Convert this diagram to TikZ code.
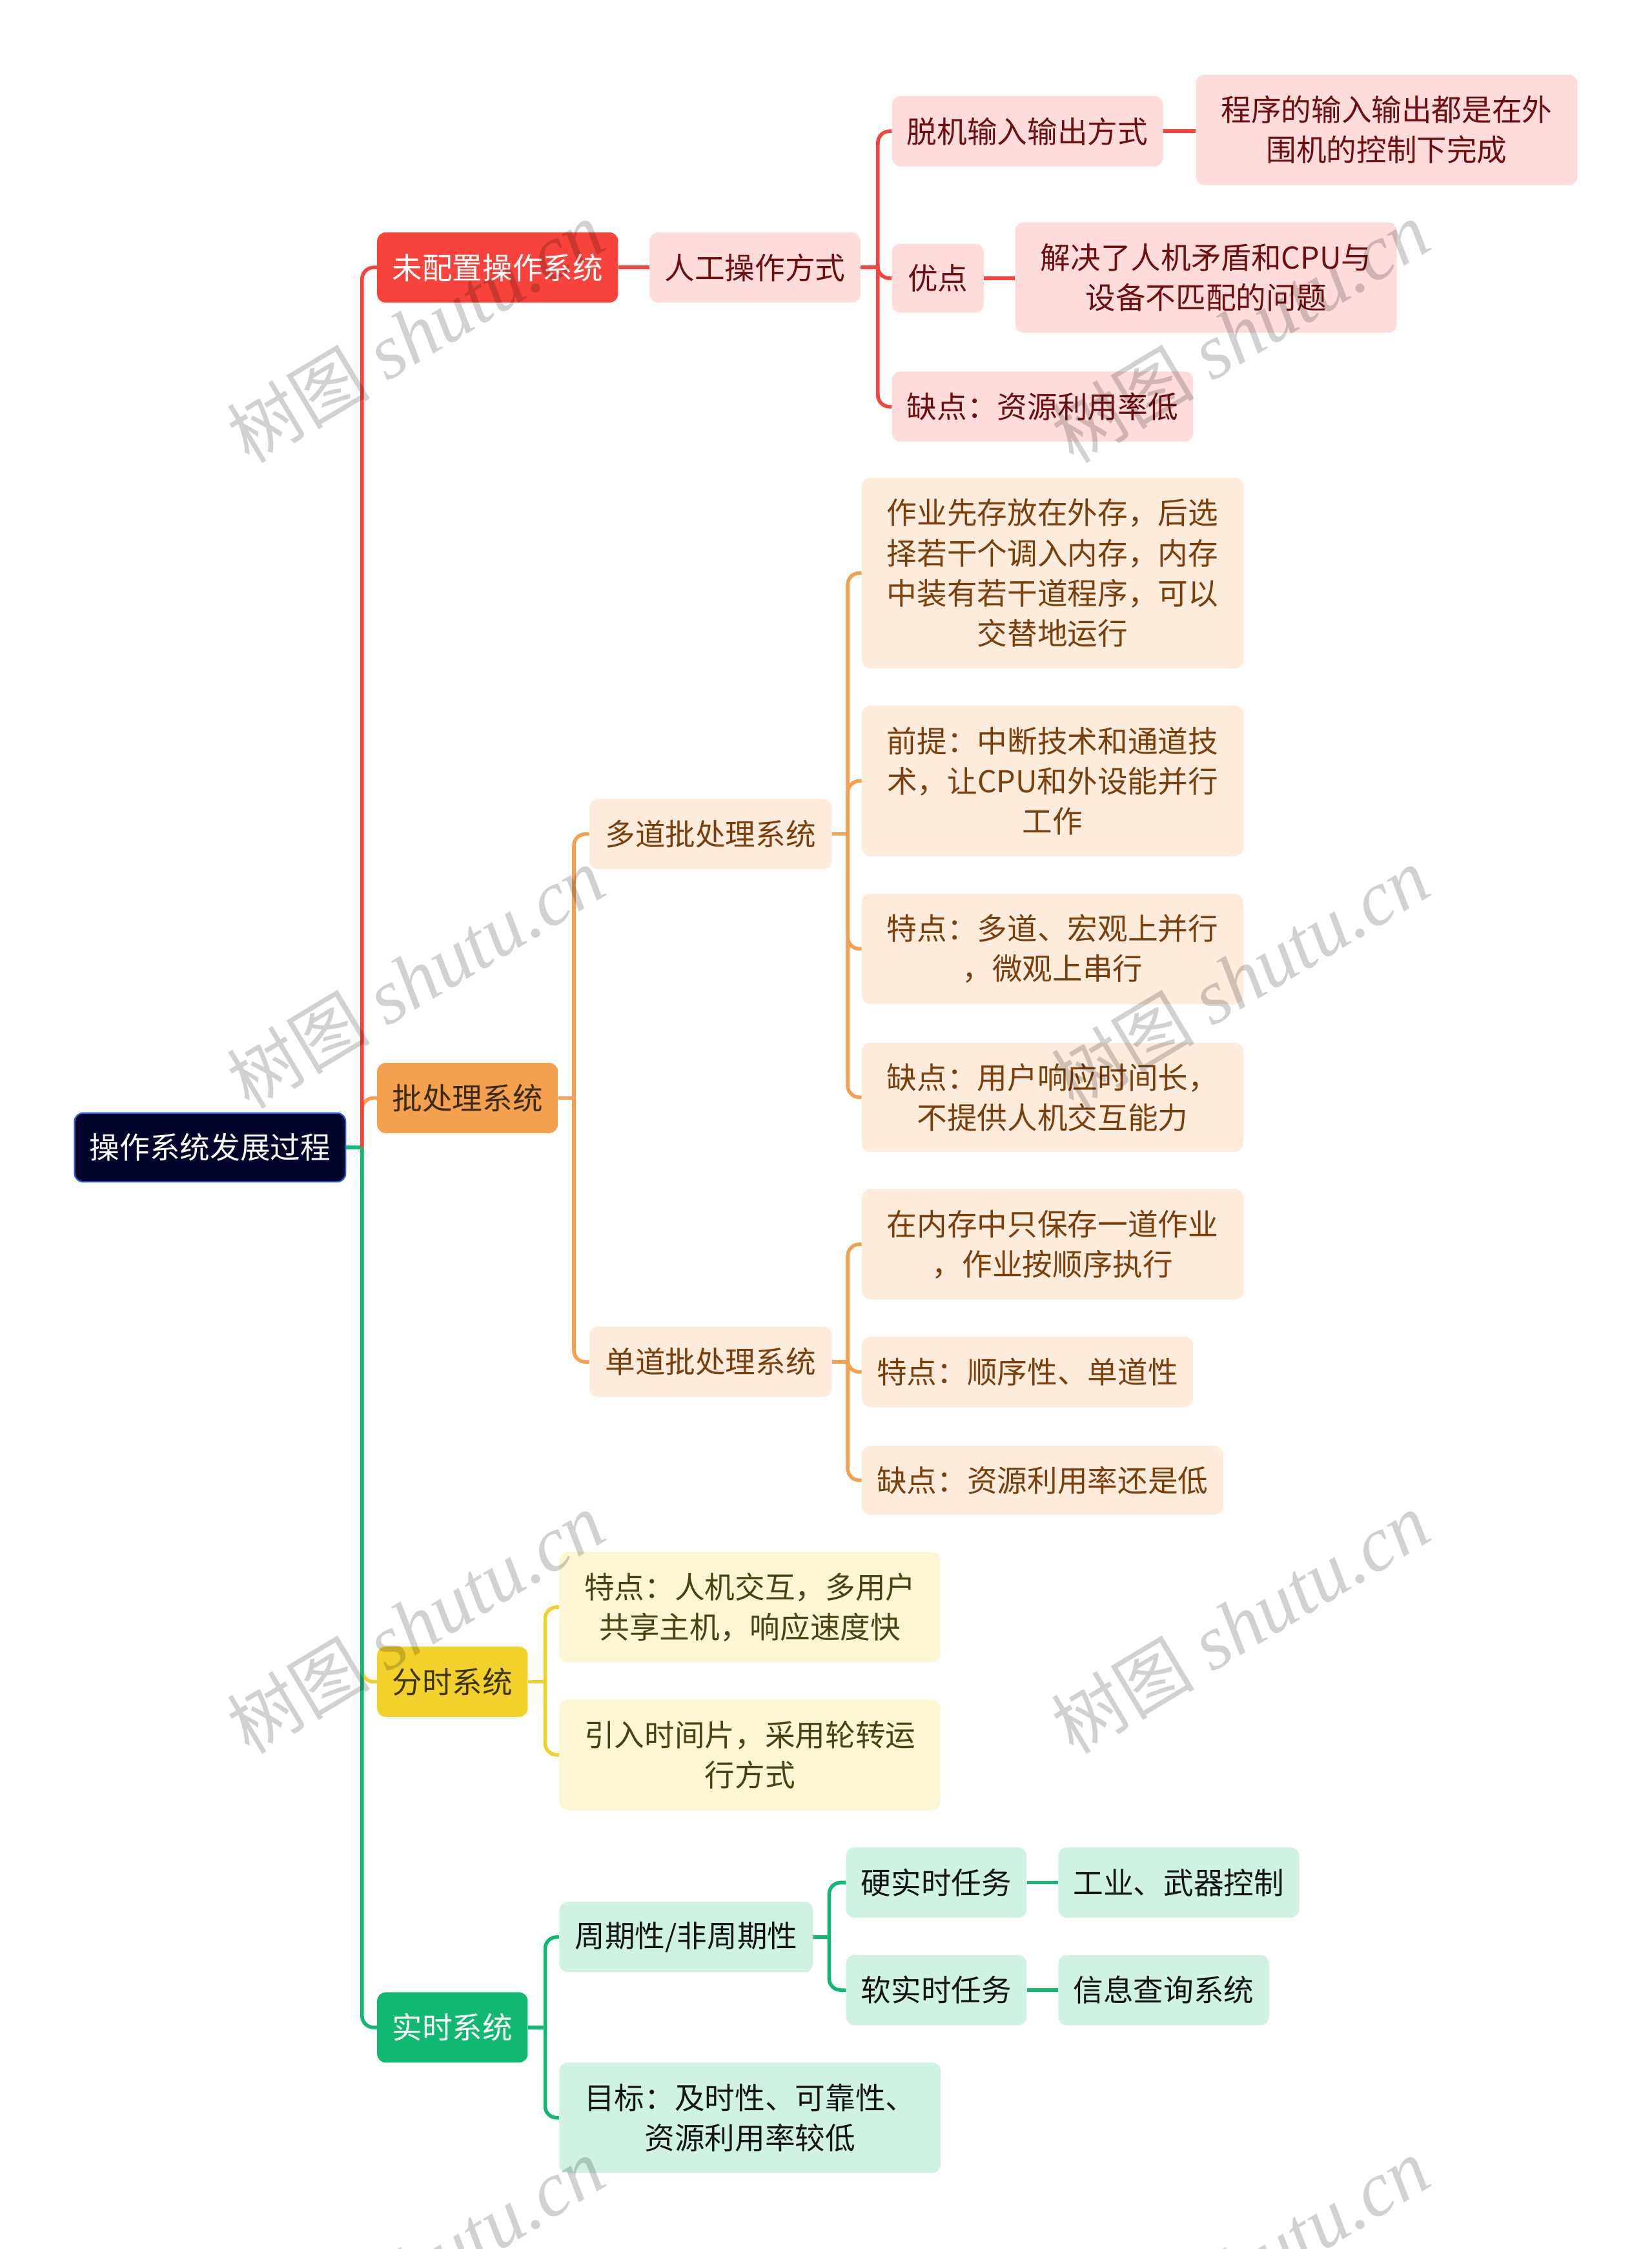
\documentclass[tikz,border=0pt]{standalone}
\usepackage{fontspec}
\setmainfont{Noto Sans CJK SC}
\newfontfamily\cjk{Noto Sans CJK SC}
\newfontfamily\wmserif{Liberation Serif}
\definecolor{rootfill}{HTML}{02032B}
\definecolor{rootborder}{HTML}{2B5FD9}
\definecolor{cred}{HTML}{F7433B}
\definecolor{corange}{HTML}{F4A14F}
\definecolor{cyellow}{HTML}{F2D22A}
\definecolor{cgreen}{HTML}{10B870}
\definecolor{lred}{HTML}{FDDCDB}
\definecolor{lorange}{HTML}{FDEBDB}
\definecolor{lyellow}{HTML}{FCF6D5}
\definecolor{lgreen}{HTML}{CFF2E2}
\definecolor{tred}{HTML}{6E0E0E}
\definecolor{torange}{HTML}{7B3F0C}
\definecolor{tyellow}{HTML}{4A4212}
\definecolor{tgreen}{HTML}{151515}
\definecolor{tbatch}{HTML}{3D2B14}
\definecolor{tshare}{HTML}{3B3300}
\pgfdeclarelayer{paper}
\pgfdeclarelayer{bg}
\pgfsetlayers{paper,bg,main}
\tikzset{
  box/.style={rounded corners=6pt, inner sep=0pt, align=center, anchor=center,
    font=\cjk\fontsize{21}{28}\selectfont},
  rootbox/.style={box, fill=rootfill, draw=rootborder, line width=1pt, text=white},
  redbox/.style={box, fill=cred, text=white},
  orgbox/.style={box, fill=corange, text=tbatch},
  yelbox/.style={box, fill=cyellow, text=tshare},
  grnbox/.style={box, fill=cgreen, text=white},
  redsub/.style={box, fill=lred, text=tred},
  orgsub/.style={box, fill=lorange, text=torange},
  yelsub/.style={box, fill=lyellow, text=tyellow},
  grnsub/.style={box, fill=lgreen, text=tgreen},
  redline/.style={draw=cred, line width=2.5pt, rounded corners=8pt},
  orgline/.style={draw=corange, line width=2.5pt, rounded corners=8pt},
  yelline/.style={draw=cyellow, line width=2.5pt, rounded corners=8pt},
  grnline/.style={draw=cgreen, line width=2.5pt, rounded corners=8pt},
  wm/.style={rotate=31, text=black, opacity=0.18, inner sep=0pt}
}
\newcommand{\wmtext}{{\cjk\fontsize{50}{50}\selectfont 树图}\hspace{12pt}{\wmserif\itshape\fontsize{54}{54}\selectfont shutu.cn}}
\begin{document}
\begin{tikzpicture}[x=1pt,y=-1pt]
\useasboundingbox (0,0) rectangle (1152,1568);
\begin{pgfonlayer}{paper}
  \fill[white] (0,0) rectangle (1152,1568);
\end{pgfonlayer}

% root
\node[rootbox, minimum width=189, minimum height=48] (root) at (146.5,800) {操作系统发展过程};

% level 1
\node[redbox, minimum width=168, minimum height=49] (wpz) at (347,186.5) {未配置操作系统};
\node[orgbox, minimum width=126, minimum height=49] (pcl) at (326,765.5) {批处理系统};
\node[yelbox, minimum width=105, minimum height=49] (fs) at (315.5,1172.5) {分时系统};
\node[grnbox, minimum width=105, minimum height=49] (ss) at (315.5,1413.5) {实时系统};

% red branch
\node[redsub, minimum width=147, minimum height=49] (rg) at (526.5,186.5) {人工操作方式};
\node[redsub, minimum width=189, minimum height=49] (tj) at (716.5,91.5) {脱机输入输出方式};
\node[redsub, minimum width=266, minimum height=77] (cx) at (967,90.5) {程序的输入输出都是在外\\围机的控制下完成};
\node[redsub, minimum width=64, minimum height=48] (yd) at (654,194) {优点};
\node[redsub, minimum width=266, minimum height=77] (jj) at (841,193.5) {解决了人机矛盾和CPU与\\设备不匹配的问题};
\node[redsub, minimum width=210, minimum height=49] (qd1) at (727,283.5) {缺点：资源利用率低};

% orange branch
\node[orgsub, minimum width=169, minimum height=49] (dd) at (495.5,581.5) {多道批处理系统};
\node[orgsub, minimum width=266, minimum height=133] (zy) at (734,399.5) {作业先存放在外存，后选\\择若干个调入内存，内存\\中装有若干道程序，可以\\交替地运行};
\node[orgsub, minimum width=266, minimum height=105] (qt) at (734,544.5) {前提：中断技术和通道技\\术，让CPU和外设能并行\\工作};
\node[orgsub, minimum width=266, minimum height=77] (tdd) at (734,661.5) {特点：多道、宏观上并行\\，微观上串行};
\node[orgsub, minimum width=266, minimum height=76] (qdd) at (734,765) {缺点：用户响应时间长，\\不提供人机交互能力};
\node[orgsub, minimum width=169, minimum height=49] (sd) at (495.5,949.5) {单道批处理系统};
\node[orgsub, minimum width=266, minimum height=77] (znc) at (734,867.5) {在内存中只保存一道作业\\，作业按顺序执行};
\node[orgsub, minimum width=231, minimum height=49] (tds) at (716.5,956.5) {特点：顺序性、单道性};
\node[orgsub, minimum width=252, minimum height=48] (qds) at (727,1032) {缺点：资源利用率还是低};

% yellow branch
\node[yelsub, minimum width=266, minimum height=77] (tdf) at (523,1120.5) {特点：人机交互，多用户\\共享主机，响应速度快};
\node[yelsub, minimum width=266, minimum height=77] (yr) at (523,1223.5) {引入时间片，采用轮转运\\行方式};

% green branch
\node[grnsub, minimum width=177, minimum height=49] (zq) at (478.5,1350.5) {周期性/非周期性};
\node[grnsub, minimum width=126, minimum height=49] (ysr) at (653,1312.5) {硬实时任务};
\node[grnsub, minimum width=168, minimum height=49] (gy) at (822,1312.5) {工业、武器控制};
\node[grnsub, minimum width=126, minimum height=49] (rsr) at (653,1387.5) {软实时任务};
\node[grnsub, minimum width=147, minimum height=49] (xx) at (811.5,1387.5) {信息查询系统};
\node[grnsub, minimum width=266, minimum height=77] (mb) at (523,1476.5) {目标：及时性、可靠性、\\资源利用率较低};

\begin{pgfonlayer}{bg}
  % trunk
  \draw[grnline] (root.east) -- ++(11,0) coordinate (rj);
  \draw[orgline] (rj) |- (pcl.west);
  \draw[yelline] (rj) |- (fs.west);
  \draw[redline] (rj) |- (wpz.west);
  \draw[grnline] (rj) |- (ss.west);
  % red
  \draw[redline] (wpz.east) -- (rg.west);
  \draw[redline] (rg.east) -- ++(12,0) coordinate (rgj);
  \draw[redline] (rgj) |- (tj.west);
  \draw[redline] (rgj) |- (yd.west);
  \draw[redline] (rgj) |- (qd1.west);
  \draw[redline] (tj.east) -- (tj.east -| cx.west);
  \draw[redline] (yd.east) -- (yd.east -| jj.west);
  % orange
  \draw[orgline] (pcl.east) -- ++(11,0) coordinate (pj);
  \draw[orgline] (pj) |- (dd.west);
  \draw[orgline] (pj) |- (sd.west);
  \draw[orgline] (dd.east) -- ++(11,0) coordinate (ddj);
  \draw[orgline] (ddj) |- (zy.west);
  \draw[orgline] (ddj) |- (qt.west);
  \draw[orgline] (ddj) |- (tdd.west);
  \draw[orgline] (ddj) |- (qdd.west);
  \draw[orgline] (sd.east) -- ++(11,0) coordinate (sdj);
  \draw[orgline] (sdj) |- (znc.west);
  \draw[orgline] (sdj) |- (tds.west);
  \draw[orgline] (sdj) |- (qds.west);
  % yellow
  \draw[yelline] (fs.east) -- ++(12,0) coordinate (fj);
  \draw[yelline] (fj) |- (tdf.west);
  \draw[yelline] (fj) |- (yr.west);
  % green
  \draw[grnline] (ss.east) -- ++(12,0) coordinate (sj);
  \draw[grnline] (sj) |- (zq.west);
  \draw[grnline] (sj) |- (mb.west);
  \draw[grnline] (zq.east) -- ++(11,0) coordinate (zqj);
  \draw[grnline] (zqj) |- (ysr.west);
  \draw[grnline] (zqj) |- (rsr.west);
  \draw[grnline] (ysr.east) -- (gy.west);
  \draw[grnline] (rsr.east) -- (xx.west);
\end{pgfonlayer}

% watermarks
\node[wm] (w1) at (290,232) {\wmtext};
\node[wm] (w2) at (290,682) {\wmtext};
\node[wm] (w3) at (290,1132) {\wmtext};
\node[wm] (w4) at (290,1582) {\wmtext};
\node[wm] (w5) at (865,232) {\wmtext};
\node[wm] (w6) at (865,682) {\wmtext};
\node[wm] (w7) at (865,1132) {\wmtext};
\node[wm] (w8) at (865,1582) {\wmtext};
\end{tikzpicture}
\end{document}
